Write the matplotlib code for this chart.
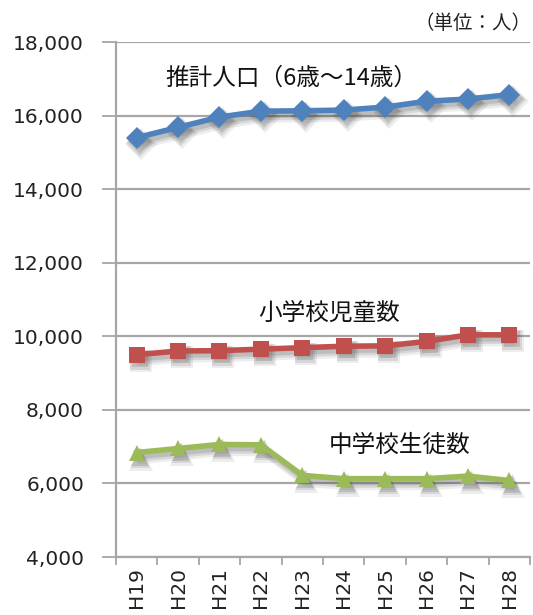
import matplotlib
matplotlib.use("Agg")
import matplotlib.pyplot as plt
import matplotlib.transforms as mtransforms
from matplotlib.ticker import FuncFormatter, FixedLocator

categories = ["H19", "H20", "H21", "H22", "H23", "H24", "H25", "H26", "H27", "H28"]
population = [15400, 15680, 15960, 16120, 16130, 16150, 16230, 16390, 16450, 16570]
elementary = [9500, 9600, 9610, 9650, 9690, 9730, 9740, 9860, 10040, 10040]
junior = [6840, 6950, 7060, 7050, 6220, 6130, 6130, 6130, 6200, 6080]

label_pop = "推計人口（6歳～14歳）"
label_ele = "小学校児童数"
label_jun = "中学校生徒数"
unit_text = "（単位：人）"

plt.rcParams['font.family'] = ['Noto Sans CJK JP', 'DejaVu Sans']

fig = plt.figure(figsize=(5.33, 6.15), dpi=100)
ax = fig.add_axes([0.2176, 0.0943, 0.7768, 0.8374])

x = list(range(len(categories)))
series = [
    (population, "#4F81BD", "D", 11),
    (elementary, "#C0504D", "s", 11),
    (junior, "#9BBB59", "^", 12),
]

shadow_layers = [(4, -6, 8, 0.10), (3, -5, 6, 0.14), (3, -4, 4, 0.18)]
for vals, col, mk, ms in series:
    for dx, dy, lw, a in shadow_layers:
        tr = mtransforms.offset_copy(ax.transData, fig=fig, x=dx, y=dy, units='dots')
        ax.plot(x, vals, color="#505050", alpha=a, linewidth=lw, marker=mk,
                markersize=ms + lw - 3, markeredgewidth=0, transform=tr, zorder=3,
                solid_capstyle='round', solid_joinstyle='round')
    ax.plot(x, vals, color=col, linewidth=4, marker=mk, markersize=ms,
            markeredgewidth=0, zorder=4)

ax.set_xlim(-0.5, len(categories) - 0.5)
ax.set_ylim(4000, 18000)
ax.set_yticks(range(4000, 18001, 2000))
ax.yaxis.set_major_formatter(FuncFormatter(lambda v, p: f"{int(v):,}"))
ax.grid(axis='y', color='#a6a6a6', linewidth=1.6, zorder=1)
ax.set_axisbelow(True)

ax.set_xticks(x)
ax.set_xticklabels(categories, rotation=90, family='DejaVu Sans', fontsize=14.5,
                   color='#222222')
ax.xaxis.set_minor_locator(FixedLocator([i - 0.5 for i in range(len(categories) + 1)]))
ax.tick_params(axis='x', which='major', length=0, pad=7)
ax.tick_params(axis='x', which='minor', length=6, width=1.3, color='#a6a6a6')
ax.tick_params(axis='y', length=10, width=1.3, color='#a6a6a6', pad=13)
for lbl in ax.get_yticklabels():
    lbl.set_family('DejaVu Sans')
    lbl.set_fontsize(14.5)
    lbl.set_color('#222222')

for s in ['top', 'right']:
    ax.spines[s].set_visible(False)
for s in ['left', 'bottom']:
    ax.spines[s].set_color('#a6a6a6')
    ax.spines[s].set_linewidth(1.6)

ax.text(0.70, 17022, label_pop, fontsize=17, ha='left', va='center', color='#111111')
ax.text(2.94, 10636, label_ele, fontsize=17, ha='left', va='center', color='#111111')
ax.text(4.63, 7022, label_jun, fontsize=17, ha='left', va='center', color='#111111')
fig.text(0.998, 0.962, unit_text, fontsize=14, ha='right', va='center', color='#222222')

fig.savefig("out.png", dpi=100)
